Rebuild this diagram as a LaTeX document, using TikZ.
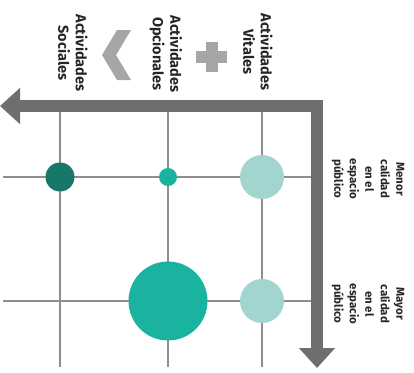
\documentclass[tikz,border=0pt]{standalone}
\usepackage{fontspec}
\setmainfont{Fira Sans}
\usetikzlibrary{arrows.meta}
\definecolor{tealdark}{HTML}{17786A}
\definecolor{tealmid}{HTML}{1AB3A0}
\definecolor{teallight}{HTML}{A2D5CF}
\definecolor{axisgray}{HTML}{6E6E6E}
\definecolor{gridgray}{HTML}{8E8E8E}
\definecolor{symbgray}{HTML}{A6A6A6}

\begin{document}
\begin{tikzpicture}[x=1pt, y=-1pt,
  dot/.style={shape=circle, inner sep=0pt, minimum size=#1},
  head/.style={font=\bfseries\fontsize{14.5}{17.5}\selectfont, rotate=-90, align=center, text=black!85},
  side/.style={font=\bfseries\fontsize{11.5}{15.5}\selectfont, rotate=-90, align=center, text=black!85},
  gridline/.style={draw=gridgray, line width=2pt},
  axis/.style={draw=axisgray, line width=12pt, line join=miter,
    {Triangle[length=20pt,width=35pt]}-{Triangle[length=20pt,width=35pt]}}]
\useasboundingbox (0,0) rectangle (414,372);

% grid
\coordinate (S0) at (60,112);  \coordinate (S1) at (60,367);
\coordinate (O0) at (168,112); \coordinate (O1) at (168,367);
\coordinate (V0) at (262,112); \coordinate (V1) at (262,367);
\coordinate (M0) at (3,177);   \coordinate (M1) at (311,177);
\coordinate (Y0) at (3,301);   \coordinate (Y1) at (311,301);
\path[gridline] (S0) -- (S1);
\path[gridline] (O0) -- (O1);
\path[gridline] (V0) -- (V1);
\path[gridline] (M0) -- (M1);
\path[gridline] (Y0) -- (Y1);

% axes
\coordinate (L) at (0,106);
\coordinate (C) at (317,106);
\coordinate (B) at (317,368);
\path[axis] (L) -- (C) -- (B);

% circles
\node[dot=29pt, fill=tealdark](SM) at (60,177) {};
\node[dot=18pt, fill=tealmid](OM) at (168,177) {};
\node[dot=44pt, fill=teallight](VM) at (262,177) {};
\node[dot=79pt, fill=tealmid](OY) at (168,301) {};
\node[dot=44pt, fill=teallight](VY) at (262,301) {};

% labels
\node[head](vit) at (258,52) {Actividades\\Vitales};
\node[head](opc) at (166,54) {Actividades\\Opcionales};
\node[head](soc) at (73,53) {Actividades\\Sociales};
\node[side](menor) at (368,179) {Menor\\calidad\\en el\\espacio\\público};
\node[side](mayor) at (368,304) {Mayor\\calidad\\en el\\espacio\\público};

% plus and chevron
\fill[symbgray] (196,51) rectangle (227,63);
\fill[symbgray] (205.5,42) rectangle (217.5,72);
\fill[symbgray] (131,30) -- (117,30) -- (102,55) -- (117,80) -- (131,80) -- (116,55) -- cycle;
\end{tikzpicture}
\end{document}
